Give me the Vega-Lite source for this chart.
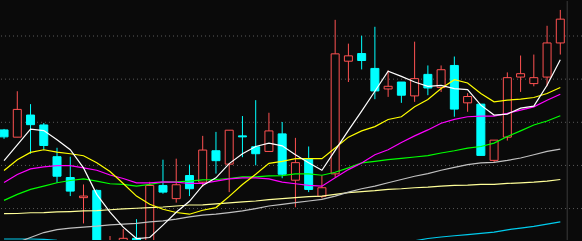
{
  "$schema": "https://vega.github.io/schema/vega-lite/v6.json",
  "width": 582,
  "height": 241,
  "autosize": {"type": "fit", "contains": "padding"},
  "padding": 0,
  "background": "#0a0a0a",
  "config": {"view": {"stroke": null}},
  "datasets": {
    "k": [
      {"i": -1, "o": 11.1, "h": 11.2, "l": 10.2, "c": 10.4},
      {"i": 0, "o": 10.37, "h": 15.0, "l": 10.37, "c": 13.17},
      {"i": 1, "o": 12.6, "h": 13.7, "l": 8.7, "c": 11.63},
      {"i": 2, "o": 11.6, "h": 11.8, "l": 9.1, "c": 9.53},
      {"i": 3, "o": 8.4, "h": 9.3, "l": 5.77, "c": 6.43},
      {"i": 4, "o": 6.3, "h": 8.4, "l": 4.43, "c": 4.93},
      {"i": 5, "o": 4.27, "h": 5.6, "l": 1.67, "c": 4.43},
      {"i": 6, "o": 5.0, "h": 5.1, "l": -1.4, "c": -0.9},
      {"i": 7, "o": -1.1, "h": 0.4, "l": -1.4, "c": -0.2},
      {"i": 8, "o": -0.9, "h": 1.1, "l": -1.1, "c": 0.17},
      {"i": 9, "o": 0.17, "h": 2.1, "l": -1.1, "c": -0.9},
      {"i": 10, "o": -0.2, "h": 5.87, "l": -0.4, "c": 5.5},
      {"i": 11, "o": 5.5, "h": 8.1, "l": 4.67, "c": 4.83},
      {"i": 12, "o": 4.17, "h": 8.2, "l": 3.77, "c": 5.57},
      {"i": 13, "o": 6.5, "h": 7.6, "l": 4.43, "c": 5.17},
      {"i": 14, "o": 5.83, "h": 10.5, "l": 5.37, "c": 9.07},
      {"i": 15, "o": 9.0, "h": 10.9, "l": 6.7, "c": 8.0},
      {"i": 16, "o": 7.65, "h": 11.07, "l": 4.83, "c": 11.07},
      {"i": 17, "o": 10.5, "h": 12.5, "l": 8.35, "c": 10.4},
      {"i": 18, "o": 9.4, "h": 14.1, "l": 7.53, "c": 8.7},
      {"i": 19, "o": 8.93, "h": 12.83, "l": 8.93, "c": 11.0},
      {"i": 20, "o": 10.7, "h": 11.9, "l": 6.23, "c": 6.63},
      {"i": 21, "o": 6.03, "h": 10.3, "l": 3.3, "c": 7.8},
      {"i": 22, "o": 8.17, "h": 9.43, "l": 4.83, "c": 5.1},
      {"i": 23, "o": 4.4, "h": 6.5, "l": 4.2, "c": 5.27},
      {"i": 24, "o": 6.67, "h": 22.2, "l": 6.33, "c": 18.77},
      {"i": 25, "o": 18.03, "h": 19.8, "l": 15.93, "c": 18.57},
      {"i": 26, "o": 18.8, "h": 20.6, "l": 17.2, "c": 18.1},
      {"i": 27, "o": 17.3, "h": 21.5, "l": 14.2, "c": 15.03},
      {"i": 28, "o": 15.23, "h": 17.1, "l": 14.43, "c": 15.5},
      {"i": 29, "o": 15.93, "h": 15.93, "l": 13.83, "c": 14.6},
      {"i": 30, "o": 14.53, "h": 20.0, "l": 13.93, "c": 16.27},
      {"i": 31, "o": 16.7, "h": 17.6, "l": 14.6, "c": 15.33},
      {"i": 32, "o": 15.37, "h": 17.6, "l": 14.93, "c": 17.17},
      {"i": 33, "o": 17.6, "h": 18.5, "l": 12.43, "c": 13.2},
      {"i": 34, "o": 13.83, "h": 14.8, "l": 12.93, "c": 14.47},
      {"i": 35, "o": 13.7, "h": 13.7, "l": 8.53, "c": 8.53},
      {"i": 36, "o": 8.03, "h": 10.07, "l": 7.87, "c": 10.07},
      {"i": 37, "o": 10.37, "h": 16.9, "l": 10.03, "c": 16.37},
      {"i": 38, "o": 16.43, "h": 18.6, "l": 14.93, "c": 16.77},
      {"i": 39, "o": 15.77, "h": 18.7, "l": 15.5, "c": 16.37},
      {"i": 40, "o": 16.43, "h": 21.6, "l": 15.5, "c": 19.87},
      {"i": 41, "o": 19.87, "h": 23.2, "l": 18.7, "c": 22.27}
    ],
    "ma": [
      {"i": -1, "m5": 8.0, "m10": 7.0, "m20": 5.8, "m30": 4.0, "m60": -0.5, "m120": 2.65, "m250": 0.1},
      {"i": 0, "m5": 9.6, "m10": 8.1, "m20": 6.6, "m30": 4.6, "m60": -0.25, "m120": 2.67, "m250": 0.1},
      {"i": 1, "m5": 11.17, "m10": 8.83, "m20": 7.17, "m30": 5.1, "m60": 0.25, "m120": 2.75, "m250": 0.1},
      {"i": 2, "m5": 11.03, "m10": 9.1, "m20": 7.37, "m30": 5.43, "m60": 0.75, "m120": 2.77, "m250": 0.07},
      {"i": 3, "m5": 10.1, "m10": 8.87, "m20": 7.5, "m30": 5.77, "m60": 1.05, "m120": 2.83, "m250": -0.03},
      {"i": 4, "m5": 9.1, "m10": 8.7, "m20": 7.5, "m30": 6.0, "m60": 1.2, "m120": 2.87, "m250": -0.1},
      {"i": 5, "m5": 7.27, "m10": 8.5, "m20": 7.27, "m30": 6.17, "m60": 1.3, "m120": 2.93, "m250": -0.15},
      {"i": 6, "m5": 4.6, "m10": 7.8, "m20": 7.03, "m30": 5.93, "m60": 1.4, "m120": 2.97, "m250": -0.15},
      {"i": 7, "m5": 2.8, "m10": 6.9, "m20": 6.55, "m30": 5.67, "m60": 1.53, "m120": 3.05, "m250": -0.15},
      {"i": 8, "m5": 1.3, "m10": 5.7, "m20": 6.2, "m30": 5.6, "m60": 1.6, "m120": 3.13, "m250": -0.15},
      {"i": 9, "m5": 0.15, "m10": 4.43, "m20": 5.77, "m30": 5.43, "m60": 1.67, "m120": 3.2, "m250": -0.15},
      {"i": 10, "m5": 0.25, "m10": 3.6, "m20": 5.77, "m30": 5.6, "m60": 1.83, "m120": 3.27, "m250": -0.15},
      {"i": 11, "m5": 1.5, "m10": 3.1, "m20": 5.87, "m30": 5.83, "m60": 1.93, "m120": 3.33, "m250": -0.15},
      {"i": 12, "m5": 2.8, "m10": 2.77, "m20": 5.83, "m30": 5.87, "m60": 2.1, "m120": 3.43, "m250": -0.15},
      {"i": 13, "m5": 3.9, "m10": 2.6, "m20": 5.7, "m30": 5.93, "m60": 2.33, "m120": 3.53, "m250": -0.15},
      {"i": 14, "m5": 5.5, "m10": 3.0, "m20": 5.7, "m30": 6.07, "m60": 2.5, "m120": 3.55, "m250": -0.15},
      {"i": 15, "m5": 6.27, "m10": 3.27, "m20": 5.93, "m30": 6.1, "m60": 2.6, "m120": 3.65, "m250": -0.15},
      {"i": 16, "m5": 7.7, "m10": 4.4, "m20": 6.17, "m30": 6.2, "m60": 2.77, "m120": 3.75, "m250": -0.15},
      {"i": 17, "m5": 8.7, "m10": 5.6, "m20": 6.27, "m30": 6.37, "m60": 2.93, "m120": 3.85, "m250": -0.15},
      {"i": 18, "m5": 9.43, "m10": 6.63, "m20": 6.27, "m30": 6.37, "m60": 3.17, "m120": 3.93, "m250": -0.15},
      {"i": 19, "m5": 9.77, "m10": 7.73, "m20": 6.17, "m30": 6.47, "m60": 3.43, "m120": 4.07, "m250": -0.15},
      {"i": 20, "m5": 9.5, "m10": 7.93, "m20": 5.83, "m30": 6.5, "m60": 3.6, "m120": 4.17, "m250": -0.15},
      {"i": 21, "m5": 8.6, "m10": 8.2, "m20": 5.67, "m30": 6.67, "m60": 3.77, "m120": 4.27, "m250": -0.15},
      {"i": 22, "m5": 7.8, "m10": 8.2, "m20": 5.5, "m30": 6.67, "m60": 3.93, "m120": 4.37, "m250": -0.15},
      {"i": 23, "m5": 7.03, "m10": 8.2, "m20": 5.43, "m30": 6.53, "m60": 4.1, "m120": 4.43, "m250": -0.15},
      {"i": 24, "m5": 9.03, "m10": 9.27, "m20": 6.27, "m30": 6.83, "m60": 4.43, "m120": 4.6, "m250": -0.15},
      {"i": 25, "m5": 11.05, "m10": 10.37, "m20": 7.1, "m30": 7.27, "m60": 4.83, "m120": 4.77, "m250": -0.15},
      {"i": 26, "m5": 13.0, "m10": 11.0, "m20": 7.77, "m30": 7.77, "m60": 5.17, "m120": 4.87, "m250": -0.15},
      {"i": 27, "m5": 15.0, "m10": 11.43, "m20": 8.6, "m30": 7.93, "m60": 5.43, "m120": 4.97, "m250": -0.15},
      {"i": 28, "m5": 17.03, "m10": 12.15, "m20": 9.1, "m30": 8.1, "m60": 5.77, "m120": 5.1, "m250": -0.15},
      {"i": 29, "m5": 16.5, "m10": 12.43, "m20": 9.83, "m30": 8.23, "m60": 6.1, "m120": 5.17, "m250": -0.1},
      {"i": 30, "m5": 15.93, "m10": 13.43, "m20": 10.5, "m30": 8.37, "m60": 6.43, "m120": 5.27, "m250": -0.08},
      {"i": 31, "m5": 15.5, "m10": 14.17, "m20": 11.1, "m30": 8.5, "m60": 6.7, "m120": 5.33, "m250": 0.15},
      {"i": 32, "m5": 15.6, "m10": 15.27, "m20": 11.77, "m30": 8.77, "m60": 7.03, "m120": 5.43, "m250": 0.3},
      {"i": 33, "m5": 15.27, "m10": 16.17, "m20": 12.17, "m30": 9.0, "m60": 7.33, "m120": 5.5, "m250": 0.43},
      {"i": 34, "m5": 15.17, "m10": 15.83, "m20": 12.43, "m30": 9.27, "m60": 7.6, "m120": 5.53, "m250": 0.55},
      {"i": 35, "m5": 13.6, "m10": 14.77, "m20": 12.5, "m30": 9.43, "m60": 7.77, "m120": 5.6, "m250": 0.67},
      {"i": 36, "m5": 12.6, "m10": 13.93, "m20": 12.5, "m30": 9.77, "m60": 7.83, "m120": 5.6, "m250": 0.8},
      {"i": 37, "m5": 12.7, "m10": 14.1, "m20": 12.77, "m30": 10.43, "m60": 8.03, "m120": 5.7, "m250": 1.03},
      {"i": 38, "m5": 13.3, "m10": 14.2, "m20": 13.1, "m30": 11.0, "m60": 8.27, "m120": 5.77, "m250": 1.2},
      {"i": 39, "m5": 13.5, "m10": 14.37, "m20": 13.43, "m30": 11.6, "m60": 8.6, "m120": 5.83, "m250": 1.37},
      {"i": 40, "m5": 15.6, "m10": 14.77, "m20": 14.1, "m30": 12.0, "m60": 8.93, "m120": 5.93, "m250": 1.6},
      {"i": 41, "m5": 18.17, "m10": 15.37, "m20": 14.7, "m30": 12.53, "m60": 9.17, "m120": 6.1, "m250": 1.83}
    ],
    "grid": [
      {"p": 3.17}, {"p": 7.52}, {"p": 11.87}, {"p": 16.22}, {"p": 20.57}
    ],
    "frame": [{"i": 41.52}]
  },
  "layer": [
    {
      "data": {"name": "grid"},
      "mark": {"type": "rule", "color": "#5a5a5a", "strokeWidth": 1, "strokeDash": [1, 3], "clip": true},
      "encoding": {
        "y": {"field": "p", "type": "quantitative", "scale": {"domain": [0, 24.1], "nice": false, "zero": false}, "axis": null}
      }
    },
    {
      "data": {"name": "frame"},
      "mark": {"type": "rule", "color": "#3a3a3a", "strokeWidth": 1},
      "encoding": {
        "x": {"field": "i", "type": "quantitative", "scale": {"domain": [-0.928, 42.26], "nice": false, "zero": false}, "axis": null}
      }
    },
    {
      "data": {"name": "k"},
      "mark": {"type": "rule", "strokeWidth": 1, "clip": true},
      "encoding": {
        "x": {"field": "i", "type": "quantitative", "scale": {"domain": [-0.928, 42.26], "nice": false, "zero": false}, "axis": null},
        "y": {"field": "h", "type": "quantitative", "scale": {"domain": [0, 24.1], "nice": false, "zero": false}, "axis": null},
        "y2": {"field": "l"},
        "color": {"condition": {"test": "datum.c > datum.o", "value": "#ff5252"}, "value": "#00ffff"}
      }
    },
    {
      "data": {"name": "k"},
      "mark": {"type": "bar", "size": 8, "strokeWidth": 1, "clip": true},
      "encoding": {
        "x": {"field": "i", "type": "quantitative", "scale": {"domain": [-0.928, 42.26], "nice": false, "zero": false}, "axis": null},
        "y": {"field": "o", "type": "quantitative", "scale": {"domain": [0, 24.1], "nice": false, "zero": false}, "axis": null},
        "y2": {"field": "c"},
        "fill": {"condition": {"test": "datum.c > datum.o", "value": "#0a0a0a"}, "value": "#00ffff"},
        "stroke": {"condition": {"test": "datum.c > datum.o", "value": "#ff5252"}, "value": "#00ffff"}
      }
    },
    {
      "data": {"name": "ma"},
      "mark": {"type": "line", "color": "#00ccee", "strokeWidth": 1.2, "clip": true},
      "encoding": {
        "x": {"field": "i", "type": "quantitative", "scale": {"domain": [-0.928, 42.26], "nice": false, "zero": false}, "axis": null},
        "y": {"field": "m250", "type": "quantitative", "scale": {"domain": [0, 24.1], "nice": false, "zero": false}, "axis": null}
      }
    },
    {
      "data": {"name": "ma"},
      "mark": {"type": "line", "color": "#ffff99", "strokeWidth": 1.2, "clip": true},
      "encoding": {
        "x": {"field": "i", "type": "quantitative", "scale": {"domain": [-0.928, 42.26], "nice": false, "zero": false}, "axis": null},
        "y": {"field": "m120", "type": "quantitative", "scale": {"domain": [0, 24.1], "nice": false, "zero": false}, "axis": null}
      }
    },
    {
      "data": {"name": "ma"},
      "mark": {"type": "line", "color": "#c0c0c0", "strokeWidth": 1.2, "clip": true},
      "encoding": {
        "x": {"field": "i", "type": "quantitative", "scale": {"domain": [-0.928, 42.26], "nice": false, "zero": false}, "axis": null},
        "y": {"field": "m60", "type": "quantitative", "scale": {"domain": [0, 24.1], "nice": false, "zero": false}, "axis": null}
      }
    },
    {
      "data": {"name": "ma"},
      "mark": {"type": "line", "color": "#00ff00", "strokeWidth": 1.2, "clip": true},
      "encoding": {
        "x": {"field": "i", "type": "quantitative", "scale": {"domain": [-0.928, 42.26], "nice": false, "zero": false}, "axis": null},
        "y": {"field": "m30", "type": "quantitative", "scale": {"domain": [0, 24.1], "nice": false, "zero": false}, "axis": null}
      }
    },
    {
      "data": {"name": "ma"},
      "mark": {"type": "line", "color": "#ff00ff", "strokeWidth": 1.2, "clip": true},
      "encoding": {
        "x": {"field": "i", "type": "quantitative", "scale": {"domain": [-0.928, 42.26], "nice": false, "zero": false}, "axis": null},
        "y": {"field": "m20", "type": "quantitative", "scale": {"domain": [0, 24.1], "nice": false, "zero": false}, "axis": null}
      }
    },
    {
      "data": {"name": "ma"},
      "mark": {"type": "line", "color": "#ffff00", "strokeWidth": 1.2, "clip": true},
      "encoding": {
        "x": {"field": "i", "type": "quantitative", "scale": {"domain": [-0.928, 42.26], "nice": false, "zero": false}, "axis": null},
        "y": {"field": "m10", "type": "quantitative", "scale": {"domain": [0, 24.1], "nice": false, "zero": false}, "axis": null}
      }
    },
    {
      "data": {"name": "ma"},
      "mark": {"type": "line", "color": "#ffffff", "strokeWidth": 1.2, "clip": true},
      "encoding": {
        "x": {"field": "i", "type": "quantitative", "scale": {"domain": [-0.928, 42.26], "nice": false, "zero": false}, "axis": null},
        "y": {"field": "m5", "type": "quantitative", "scale": {"domain": [0, 24.1], "nice": false, "zero": false}, "axis": null}
      }
    }
  ]
}
